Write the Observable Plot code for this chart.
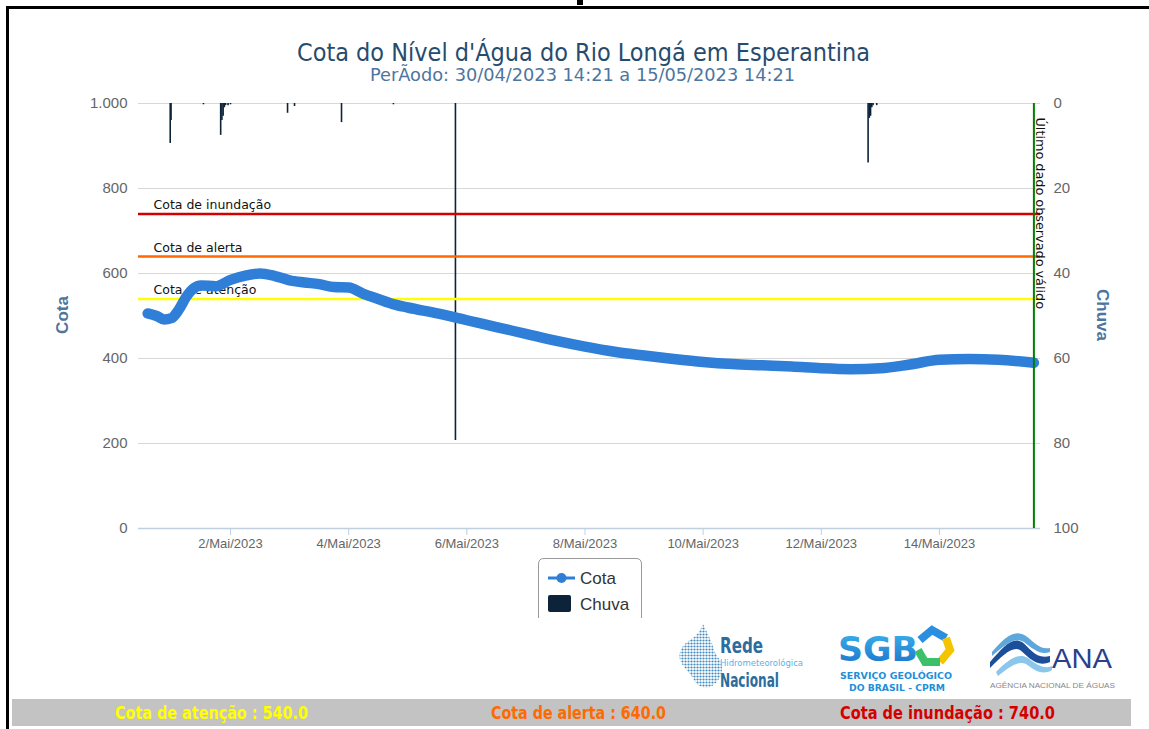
<!DOCTYPE html>
<html>
<head>
<meta charset="utf-8">
<script src="https://cdn.jsdelivr.net/npm/d3@7"></script>
<script src="https://cdn.jsdelivr.net/npm/@observablehq/plot@0.6"></script>
<style>
  html, body { margin: 0; padding: 0; background: #fff; }
  #page { position: relative; width: 1149px; height: 729px; overflow: hidden; background: #fff; }
  #chart { position: absolute; left: 0; top: 0; }
  #overlay { position: absolute; left: 0; top: 0; pointer-events: none; }
</style>
</head>
<body>
<div id="page">
  <div id="chart"></div>
  <svg id="overlay" width="1149" height="729"></svg>
</div>
<script>
// ---------- data ----------
const cotaTimes = [
  "2023-04-30T14:21","2023-04-30T18:00","2023-04-30T21:00","2023-05-01T00:00","2023-05-01T03:00",
  "2023-05-01T06:00","2023-05-01T09:00","2023-05-01T12:00","2023-05-01T18:00","2023-05-02T00:00",
  "2023-05-02T06:00","2023-05-02T12:00","2023-05-02T18:00","2023-05-03T00:00","2023-05-03T06:00",
  "2023-05-03T12:00","2023-05-03T18:00","2023-05-04T00:00","2023-05-04T06:00","2023-05-04T12:00",
  "2023-05-04T18:00","2023-05-05T00:00","2023-05-05T12:00","2023-05-06T00:00","2023-05-06T12:00",
  "2023-05-07T00:00","2023-05-07T12:00","2023-05-08T00:00","2023-05-08T12:00","2023-05-09T00:00",
  "2023-05-09T12:00","2023-05-10T00:00","2023-05-10T12:00","2023-05-11T00:00","2023-05-11T12:00",
  "2023-05-12T00:00","2023-05-12T12:00","2023-05-13T00:00","2023-05-13T12:00","2023-05-14T00:00",
  "2023-05-14T12:00","2023-05-15T00:00","2023-05-15T14:21"
];
const cotaValues = [
  506, 500, 492, 495, 515,
  545, 565, 572, 570, 585,
  595, 600, 594, 584, 579,
  575, 568, 567, 552, 540,
  528, 520, 506, 490, 474,
  458, 442, 428, 416, 407,
  399, 392, 387, 384, 381,
  377, 375, 377, 386, 397,
  399, 397, 390
];
const chuvaTimes = [
  "2023-04-30T23:30","2023-04-30T23:50","2023-05-01T13:00","2023-05-01T20:00","2023-05-01T20:30",
  "2023-05-01T21:00","2023-05-01T21:30","2023-05-01T22:00","2023-05-01T23:00","2023-05-02T00:00",
  "2023-05-02T23:10","2023-05-03T02:00","2023-05-03T21:05","2023-05-04T18:10","2023-05-05T19:22",
  "2023-05-12T19:00","2023-05-12T19:30","2023-05-12T20:00","2023-05-12T20:30","2023-05-12T21:00",
  "2023-05-12T22:30"
];
const chuvaValues = [
  9.4, 4.0, 0.3, 7.5, 4.0,
  3.0, 1.0, 0.5, 0.5, 0.3,
  2.3, 0.7, 4.5, 0.3, 79.3,
  14.0, 3.5, 3.0, 1.0, 0.5,
  0.5
];
const thresholdNames = ["Cota de atenção", "Cota de alerta", "Cota de inundação"];
const thresholdValues = [540, 640, 740];
const thresholdColors = ["#ffff00", "#ff6a00", "#d40000"];
const yTicks = [0, 200, 400, 600, 800, 1000];
const xTickDates = ["2023-05-02","2023-05-04","2023-05-06","2023-05-08","2023-05-10","2023-05-12","2023-05-14"];
const monthName = "Mai";
const xDomain = ["2023-04-30T10:37", "2023-05-15T17:02"];
const chuvaMax = 100;
const cotaMax = 1000;

// ---------- tables ----------
const utc = s => new Date(s.length === 10 ? s + "T00:00Z" : s + "Z");
const cota = cotaTimes.map((t, i) => ({t: utc(t), v: cotaValues[i]}));
const chuva = chuvaTimes.map((t, i) => ({t: utc(t), mm: chuvaValues[i]}));
const toCota = mm => cotaMax - mm * (cotaMax / chuvaMax);
const lastTime = cota[cota.length - 1].t;

const thresholdMarks = thresholdValues.flatMap((v, i) => [
  Plot.ruleY([v], {stroke: thresholdColors[i], strokeWidth: 2.5}),
  Plot.text([v], {y: d => d, frameAnchor: "left", text: () => thresholdNames[i], textAnchor: "start",
    lineAnchor: "bottom", dx: 15, dy: -5, fontSize: 12.5, fill: "#111", fontFamily: "DejaVu Sans"})
]);

const chart = Plot.plot({
  width: 1149,
  height: 560,
  marginLeft: 138,
  marginRight: 109,
  marginTop: 103,
  marginBottom: 32,
  style: {fontFamily: "Liberation Sans, Arial, sans-serif", background: "transparent"},
  x: {type: "utc", domain: xDomain.map(utc)},
  y: {domain: [0, cotaMax]},
  marks: [
    Plot.gridY(yTicks.filter(d => d > 0), {stroke: "#d8d8d8", strokeOpacity: 1}),
    Plot.ruleY([0], {stroke: "#c0d0e0", strokeWidth: 1.5}),
    Plot.ruleX(chuva, {x: "t", y1: cotaMax, y2: d => toCota(d.mm), stroke: "#0d233a", strokeWidth: 1.6}),
    ...thresholdMarks,
    Plot.line(cota, {x: "t", y: "v", stroke: "#2f7ed8", strokeWidth: 10.5, strokeLinecap: "round",
      strokeLinejoin: "round", curve: "monotone-x"}),
    Plot.ruleX([lastTime], {stroke: "#008000", strokeWidth: 2}),
    Plot.text([lastTime], {x: d => d, frameAnchor: "top", text: () => "Último dado observado válido",
      rotate: 90, textAnchor: "start", dx: 11, dy: 14, fontSize: 12.8, fill: "#111", fontFamily: "DejaVu Sans"}),
    Plot.axisY(yTicks, {anchor: "left", tickSize: 0, tickPadding: 11, label: null,
      tickFormat: d => d >= 1000 ? d3.format(",")(d).replace(",", ".") : String(d),
      fontSize: 15, fill: "#666", stroke: "none"}),
    Plot.axisY(yTicks, {anchor: "right", tickSize: 0, tickPadding: 13, label: null,
      tickFormat: d => String((cotaMax - d) / (cotaMax / chuvaMax)),
      fontSize: 15, fill: "#666", stroke: "none"}),
    Plot.axisX(xTickDates.map(utc), {tickSize: 7, tickPadding: 3, label: null, stroke: "#c0d0e0",
      tickFormat: d => `${d.getUTCDate()}/${monthName}/${d.getUTCFullYear()}`,
      fontSize: 13, fill: "#666"})
  ]
});
document.getElementById("chart").appendChild(chart);

// ---------- overlay: frame, titles, legend, logos, footer ----------
const svg = d3.select("#overlay");
// fragment of page glyph above the frame
svg.append("path").attr("d", "M577,0 H583 V5 H577 Z").attr("fill", "#000");
// frame
svg.append("path").attr("d", "M7.5,729 V7.5 H1149").attr("fill", "none").attr("stroke", "#000").attr("stroke-width", 3);

// title + subtitle
svg.append("text").attr("x", 297).attr("y", 61).attr("textLength", 573).attr("lengthAdjust", "spacingAndGlyphs")
  .attr("font-family", "Liberation Sans Narrow, DejaVu Sans Condensed, sans-serif").attr("font-size", 25)
  .attr("fill", "#274b6d").text("Cota do Nível d'Água do Rio Longá em Esperantina");
svg.append("text").attr("x", 370).attr("y", 81).attr("textLength", 425).attr("lengthAdjust", "spacingAndGlyphs")
  .attr("font-family", "Liberation Sans Narrow, DejaVu Sans Condensed, sans-serif").attr("font-size", 17)
  .attr("fill", "#4d759e").text("PerÃodo: 30/04/2023 14:21 a 15/05/2023 14:21");

// axis titles
svg.append("text").attr("transform", "translate(68,315) rotate(-90)").attr("text-anchor", "middle")
  .attr("font-family", "Liberation Sans, Arial, sans-serif").attr("font-weight", "bold").attr("font-size", 17)
  .attr("fill", "#4d759e").text("Cota");
svg.append("text").attr("transform", "translate(1097,315) rotate(90)").attr("text-anchor", "middle")
  .attr("font-family", "Liberation Sans, Arial, sans-serif").attr("font-weight", "bold").attr("font-size", 17)
  .attr("fill", "#4d759e").text("Chuva");

// legend (cut by container bottom)
svg.append("path").attr("d", "M538.5,618 V564 Q538.5,558.5 544,558.5 H636 Q641.5,558.5 641.5,564 V618")
  .attr("fill", "#fff").attr("stroke", "#999").attr("stroke-width", 1);
svg.append("line").attr("x1", 548).attr("x2", 575).attr("y1", 578).attr("y2", 578)
  .attr("stroke", "#2f7ed8").attr("stroke-width", 3);
svg.append("circle").attr("cx", 561.5).attr("cy", 578).attr("r", 5).attr("fill", "#2f7ed8");
svg.append("text").attr("x", 580).attr("y", 584).attr("font-family", "Liberation Sans, Arial, sans-serif")
  .attr("font-size", 17).attr("fill", "#333").text("Cota");
svg.append("rect").attr("x", 548).attr("y", 595).attr("width", 23).attr("height", 17).attr("rx", 2)
  .attr("fill", "#0d233a");
svg.append("text").attr("x", 580).attr("y", 610).attr("font-family", "Liberation Sans, Arial, sans-serif")
  .attr("font-size", 17).attr("fill", "#333").text("Chuva");

// logo 1: Rede Hidrometeorológica Nacional
const defs = svg.append("defs");
const pat = defs.append("pattern").attr("id", "dots").attr("width", 3).attr("height", 3).attr("patternUnits", "userSpaceOnUse");
pat.append("circle").attr("cx", 1.5).attr("cy", 1.5).attr("r", 1.1).attr("fill", "#2f7fb8");
svg.append("path").attr("d", "M703,624 C700,632 696,636 690,640 C682,645 678,652 680,660 C683,668 690,672 694,680 C697,686 705,690 712,686 C718,682 722,676 722,668 C722,660 716,656 714,650 C712,642 708,634 703,624 Z")
  .attr("fill", "url(#dots)").attr("opacity", 0.9);
const narrow = "Liberation Sans Narrow, DejaVu Sans Condensed, sans-serif";
svg.append("text").attr("x", 720).attr("y", 653).attr("textLength", 43).attr("lengthAdjust", "spacingAndGlyphs")
  .attr("font-family", narrow).attr("font-weight", "bold").attr("font-size", 21).attr("fill", "#2c6d9e").text("Rede");
svg.append("text").attr("x", 720).attr("y", 666).attr("textLength", 83).attr("lengthAdjust", "spacingAndGlyphs")
  .attr("font-family", narrow).attr("font-size", 9.5).attr("fill", "#56b4e9").text("Hidrometeorológica");
svg.append("text").attr("x", 720).attr("y", 687).attr("textLength", 59).attr("lengthAdjust", "spacingAndGlyphs")
  .attr("font-family", narrow).attr("font-weight", "bold").attr("font-size", 20).attr("fill", "#2c6d9e").text("Nacional");

// logo 2: SGB
const grad = defs.append("linearGradient").attr("id", "sgbg").attr("x1", 0).attr("y1", 0).attr("x2", 0).attr("y2", 1);
grad.append("stop").attr("offset", 0).attr("stop-color", "#3bb6ee");
grad.append("stop").attr("offset", 1).attr("stop-color", "#1a6fc8");
svg.append("text").attr("x", 838).attr("y", 661).attr("textLength", 80).attr("lengthAdjust", "spacingAndGlyphs")
  .attr("font-family", "DejaVu Sans, sans-serif").attr("font-weight", "bold").attr("font-size", 34)
  .attr("fill", "url(#sgbg)").text("SGB");
svg.append("path").attr("d", "M920,640 L932,630 L946,638").attr("fill", "none").attr("stroke", "#2a8fe0").attr("stroke-width", 8);
svg.append("path").attr("d", "M946,638 L950,650 L940,662").attr("fill", "none").attr("stroke", "#f5c400").attr("stroke-width", 8);
svg.append("path").attr("d", "M940,662 L925,662 L918,650").attr("fill", "none").attr("stroke", "#3cc06a").attr("stroke-width", 8);
svg.append("text").attr("x", 840).attr("y", 679).attr("textLength", 112).attr("lengthAdjust", "spacingAndGlyphs")
  .attr("font-family", "DejaVu Sans, sans-serif").attr("font-weight", "bold").attr("font-size", 9.5)
  .attr("fill", "#1e8fd8").text("SERVIÇO GEOLÓGICO");
svg.append("text").attr("x", 849).attr("y", 691).attr("textLength", 96).attr("lengthAdjust", "spacingAndGlyphs")
  .attr("font-family", "DejaVu Sans, sans-serif").attr("font-weight", "bold").attr("font-size", 9.5)
  .attr("fill", "#1e8fd8").text("DO BRASIL - CPRM");

// logo 3: ANA
svg.append("path").attr("d", "M990,662 C1002,648 1012,636 1022,642 C1030,648 1036,660 1050,656 L1050,662 C1036,668 1028,656 1020,650 C1012,646 1002,656 990,668 Z")
  .attr("fill", "#1d4e9a");
svg.append("path").attr("d", "M992,652 C1004,638 1014,628 1026,636 C1034,642 1040,650 1050,648 L1050,652 C1040,656 1032,648 1024,642 C1014,636 1004,646 992,656 Z")
  .attr("fill", "#5da7dc");
svg.append("path").attr("d", "M996,672 C1008,660 1018,652 1028,658 C1036,664 1044,670 1052,666 L1052,670 C1042,676 1034,670 1026,664 C1018,660 1008,668 998,676 Z")
  .attr("fill", "#8cc6ea");
svg.append("text").attr("x", 1052).attr("y", 668).attr("textLength", 60).attr("lengthAdjust", "spacingAndGlyphs")
  .attr("font-family", "Liberation Sans, Arial, sans-serif").attr("font-size", 28).attr("fill", "#2b3f8c").text("ANA");
svg.append("text").attr("x", 990).attr("y", 688).attr("textLength", 125).attr("lengthAdjust", "spacingAndGlyphs")
  .attr("font-family", "Liberation Sans, Arial, sans-serif").attr("font-size", 8).attr("fill", "#888")
  .text("AGÊNCIA NACIONAL DE ÁGUAS");

// footer bar
svg.append("rect").attr("x", 12).attr("y", 699).attr("width", 1119).attr("height", 27).attr("fill", "#c3c3c3");
const footerX = [115, 491, 840];
const footerW = [193, 175, 215];
const footerColors = ["#ffff00", "#ff6a00", "#d40000"];
thresholdNames.forEach((n, i) => {
  svg.append("text").attr("x", footerX[i]).attr("y", 719).attr("textLength", footerW[i]).attr("lengthAdjust", "spacingAndGlyphs")
    .attr("font-family", narrow).attr("font-weight", "bold").attr("font-size", 17)
    .attr("fill", footerColors[i]).text(`${n} : ${thresholdValues[i].toFixed(1)}`);
});
</script>
</body>
</html>
